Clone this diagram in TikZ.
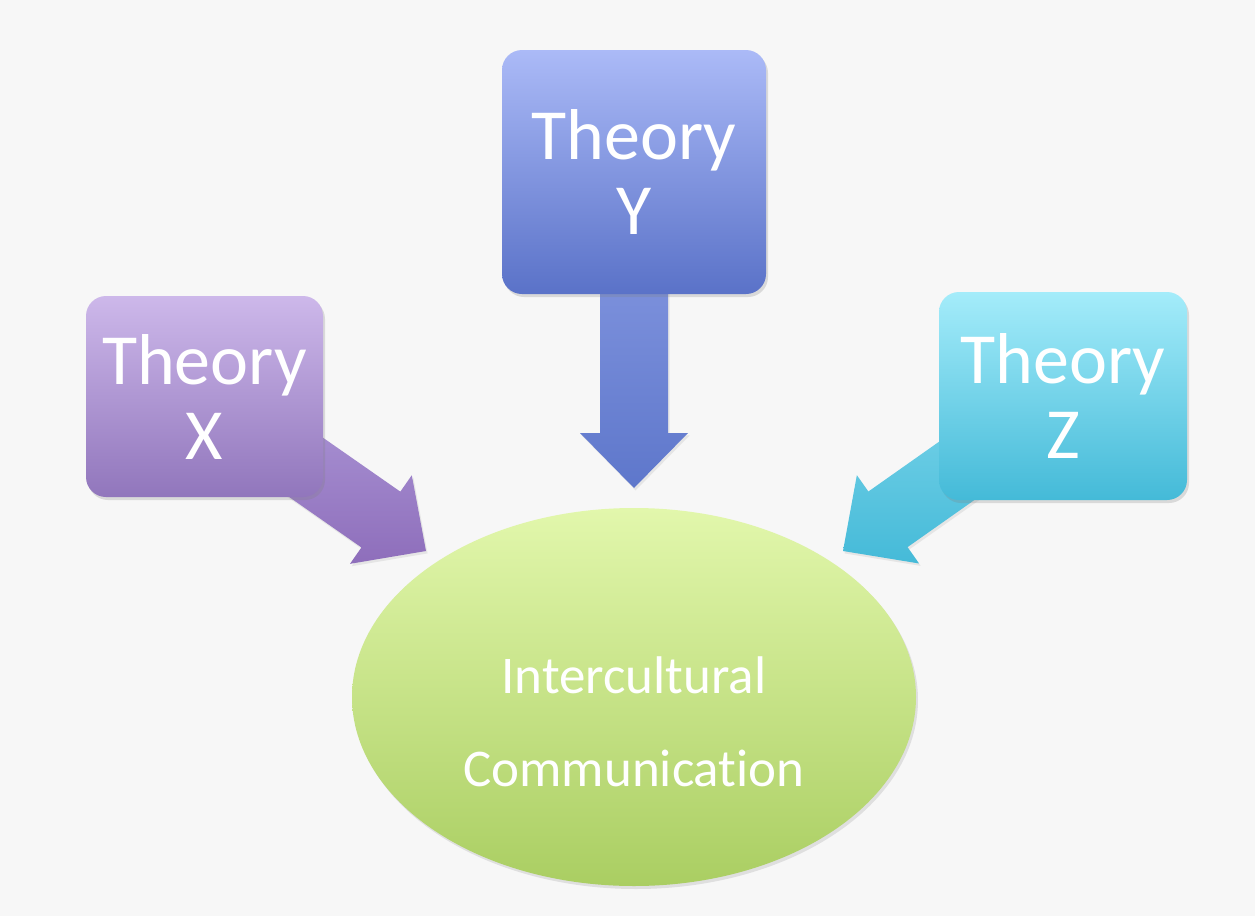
\documentclass[tikz,border=0pt]{standalone}
\usepackage{fontspec}
\setmainfont{Carlito}[Ligatures={NoCommon}]
\usetikzlibrary{calc,shadows,shapes.geometric}
\pgfdeclarelayer{back}
\pgfdeclarelayer{arrows}
\pgfsetlayers{back,arrows,main}
\definecolor{ytop}{HTML}{ABBAF7}
\definecolor{ybot}{HTML}{5A72C8}
\definecolor{yatop}{HTML}{8C9EE5}
\definecolor{yabot}{HTML}{5E77CB}
\definecolor{xtop}{HTML}{CDB8EA}
\definecolor{xbot}{HTML}{9176BC}
\definecolor{xatop}{HTML}{B09CDA}
\definecolor{xabot}{HTML}{8E6EBB}
\definecolor{ztop}{HTML}{A4ECFA}
\definecolor{zbot}{HTML}{44BAD8}
\definecolor{zatop}{HTML}{7FD7EC}
\definecolor{zabot}{HTML}{45BAD8}
\definecolor{etop}{HTML}{E2F7AC}
\definecolor{ebot}{HTML}{AACE62}
\definecolor{bgcol}{HTML}{F7F7F7}
\newcommand\myblockarrow[4]{%
  \coordinate (hb) at ($(#2)!27.5pt!(#1)$);
  \shade[top color=#3,bottom color=#4,
    drop shadow={opacity=0.15,shadow xshift=0.8pt,shadow yshift=-1.2pt}]
    ($(#1)!17pt!90:(#2)$) -- ($(hb)!17pt!90:(#2)$) -- ($(hb)!27pt!90:(#2)$)
    -- (#2) -- ($(hb)!27pt!-90:(#2)$) -- ($(hb)!17pt!-90:(#2)$)
    -- ($(#1)!17pt!-90:(#2)$) -- cycle;
}
\begin{document}
\begin{tikzpicture}[x=0.5pt,y=-0.5pt,
  theorybox/.style={rectangle, rounded corners=10pt, text=white, align=center,
    font=\fontsize{36}{37.5}\selectfont, inner sep=0pt,
    drop shadow={opacity=0.25,shadow xshift=1pt,shadow yshift=-1.5pt}},
  centre/.style={ellipse, inner sep=0pt, minimum width=282pt, minimum height=189pt,
    top color=etop, bottom color=ebot,
    drop shadow={opacity=0.2,shadow xshift=1pt,shadow yshift=-1.5pt}},
  centretext/.style={text=white, align=center, font=\fontsize{26.5}{46.5}\selectfont, inner sep=0pt}]
\begin{pgfonlayer}{back}
\fill[bgcol] (0,0) rectangle (1255,916);
\end{pgfonlayer}
\useasboundingbox (0,0) rectangle (1255,916);

\node[theorybox, minimum width=132pt, minimum height=122pt, top color=ytop, bottom color=ybot]
  (Y) at (634,172) {Theory\\Y};
\node[theorybox, minimum width=118.5pt, minimum height=100.5pt, top color=xtop, bottom color=xbot]
  (X) at (204.5,396.5) {Theory\\X};
\node[theorybox, minimum width=124pt, minimum height=104pt, top color=ztop, bottom color=zbot]
  (Z) at (1063,396) {Theory\\Z};
\node[centre] (ic) at (634,697) {};
\node[centretext] (ictext) at ($(ic.center)+(0,25)$) {Intercultural\\Communication};

\coordinate (ty) at (634,488);
\coordinate (tx) at (426,551);
\coordinate (tz) at (843,551);
\begin{pgfonlayer}{arrows}
\myblockarrow{Y.center}{ty}{yatop}{yabot}
\myblockarrow{X.center}{tx}{xatop}{xabot}
\myblockarrow{Z.center}{tz}{zatop}{zabot}
\end{pgfonlayer}
\end{tikzpicture}
\end{document}
